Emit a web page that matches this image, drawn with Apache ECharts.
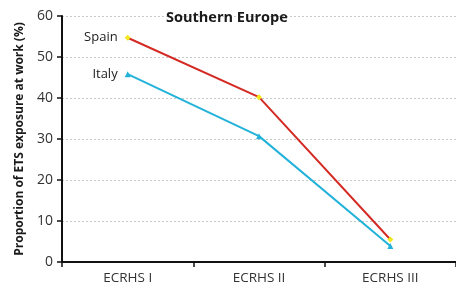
<!DOCTYPE html>
<html><head><meta charset="utf-8">
<script src="https://cdn.jsdelivr.net/npm/echarts@6/dist/echarts.min.js"></script>
<style>html,body{margin:0;padding:0;background:#fff}#c{width:456px;height:291px}</style>
</head><body><div id="c"></div>
<script>
var categories = ['ECRHS I', 'ECRHS II', 'ECRHS III'];
var spain = [54.7, 40.2, 5.5];
var italy = [45.8, 30.7, 3.9];
var yTicks = [0, 10, 20, 30, 40, 50, 60];

var chart = echarts.init(document.getElementById('c'));
chart.setOption({
  animation: false,
  title: {
    text: 'Southern Europe', left: 161, top: 5,
    textStyle: {fontFamily: 'Open Sans', fontWeight: 'bold', fontSize: 14.5, color: '#1a1a1a'}
  },
  grid: {left: 62, top: 16, width: 402, height: 246},
  xAxis: {
    type: 'category', data: categories, boundaryGap: true,
    axisLine: {lineStyle: {color: '#111', width: 2}},
    axisTick: {show: true, length: 5, lineStyle: {color: '#111', width: 1.5}},
    axisLabel: {fontFamily: 'Open Sans', fontSize: 13.5, color: '#333', margin: 9},
    splitLine: {show: false}
  },
  yAxis: {
    type: 'value', min: yTicks[0], max: yTicks[yTicks.length - 1], interval: 10,
    name: 'Proportion of ETS exposure at work (%)', nameLocation: 'middle', nameGap: 36,
    nameTextStyle: {fontFamily: 'Open Sans', fontWeight: 'bold', fontSize: 12, color: '#1a1a1a'},
    axisLine: {show: true, lineStyle: {color: '#111', width: 2}},
    axisTick: {show: true, length: 5, lineStyle: {color: '#111', width: 1.5}},
    axisLabel: {fontFamily: 'Open Sans', fontSize: 14, color: '#333', margin: 9},
    splitLine: {lineStyle: {color: '#c8c8c8', type: [2, 2], width: 1}}
  },
  series: [
    {
      name: 'Spain', type: 'line', data: spain,
      symbol: 'diamond', symbolSize: 6,
      lineStyle: {color: '#d42a24', width: 2},
      itemStyle: {color: '#f2e81c'},
      label: {show: true, position: 'left', distance: 7, fontFamily: 'Open Sans', fontSize: 13, color: '#222',
        formatter: function (p) { return p.dataIndex === 0 ? 'Spain' : ''; }}
    },
    {
      name: 'Italy', type: 'line', data: italy,
      symbol: 'triangle', symbolSize: 6,
      lineStyle: {color: '#23b2d9', width: 2},
      itemStyle: {color: '#23b2d9'},
      label: {show: true, position: 'left', distance: 7, fontFamily: 'Open Sans', fontSize: 13, color: '#222',
        formatter: function (p) { return p.dataIndex === 0 ? 'Italy' : ''; }}
    }
  ]
});
</script></body></html>
